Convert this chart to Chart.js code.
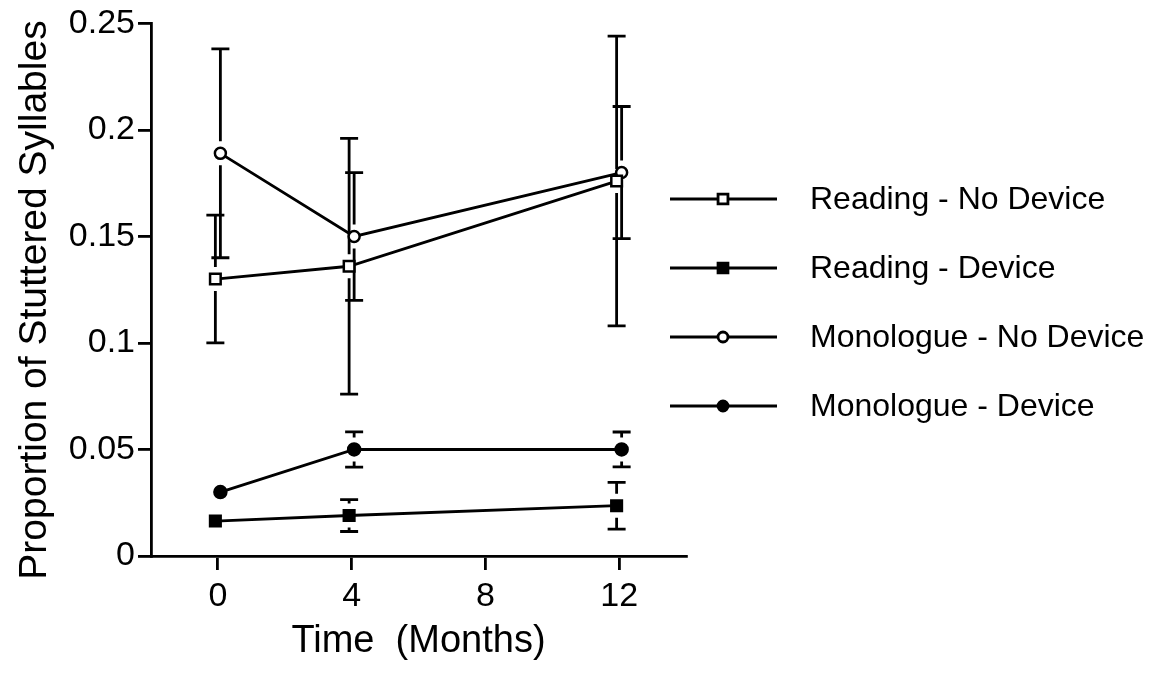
<!DOCTYPE html>
<html>
<head>
<meta charset="utf-8">
<script src="https://cdn.jsdelivr.net/npm/chart.js@4.4.1/dist/chart.umd.min.js"></script>
<style>
  html, body { margin: 0; padding: 0; background: #fff; }
  #wrap { width: 1157px; height: 675px; }
</style>
</head>
<body>
<div id="wrap"><canvas id="chart" width="1157" height="675"></canvas></div>
<script>
// Datos
const months = [0, 4, 12];
const xTicks = [0, 4, 8, 12];
const yTicks = [0, 0.05, 0.1, 0.15, 0.2, 0.25];
const yTickLabels = ['0', '0.05', '0.1', '0.15', '0.2', '0.25'];

const seriesLabels = ['Reading - No Device', 'Reading - Device', 'Monologue - No Device', 'Monologue - Device'];

const readingNoDevice = [0.130, 0.136, 0.176];
const readingNoDeviceErr = [0.030, 0.060, 0.068];
const readingDevice = [0.0164, 0.0190, 0.0236];
const readingDeviceErr = [0.004, 0.0075, 0.011];
const monologueNoDevice = [0.189, 0.150, 0.180];
const monologueNoDeviceErr = [0.049, 0.030, 0.031];
const monologueDevice = [0.030, 0.050, 0.050];
const monologueDeviceErr = [0.004, 0.0083, 0.0082];

const FONT = "'Liberation Sans', Arial, sans-serif";
const GAP = 12;   // hueco entre símbolo y barra de error
const CAP = 9;    // media anchura del remate
const LW = 2.8;

// pequeño desplazamiento horizontal para que no se tapen las barras
function pts(vals, nudge) {
  return vals.map((v, i) => ({ x: months[i] + nudge, y: v }));
}

function makeSet(label, vals, errs, style, filled, radius, nudge) {
  return {
    label: label,
    data: pts(vals, nudge),
    errors: errs,
    borderColor: '#000',
    backgroundColor: filled ? '#000' : '#fff',
    borderWidth: LW,
    pointStyle: style,
    pointRadius: radius,
    pointBorderWidth: 2.5,
    pointBackgroundColor: filled ? '#000' : '#fff',
    pointBorderColor: '#000',
    tension: 0
  };
}

const datasets = [
  makeSet(seriesLabels[0], readingNoDevice, readingNoDeviceErr, 'rect', false, 7.5, -0.075),
  makeSet(seriesLabels[1], readingDevice, readingDeviceErr, 'rect', true, 7.5, -0.075),
  makeSet(seriesLabels[2], monologueNoDevice, monologueNoDeviceErr, 'circle', false, 5.5, 0.075),
  makeSet(seriesLabels[3], monologueDevice, monologueDeviceErr, 'circle', true, 6, 0.075)
];

const errorBars = {
  id: 'errorBars',
  beforeDatasetsDraw(chart) {
    const ctx = chart.ctx;
    const ys = chart.scales.y;
    ctx.save();
    ctx.strokeStyle = '#000';
    ctx.lineWidth = LW;
    chart.data.datasets.forEach((ds, i) => {
      chart.getDatasetMeta(i).data.forEach((pt, j) => {
        const top = ys.getPixelForValue(ds.data[j].y + ds.errors[j]);
        const bot = ys.getPixelForValue(ds.data[j].y - ds.errors[j]);
        if (pt.y - top <= GAP) return;
        ctx.beginPath();
        ctx.moveTo(pt.x, top); ctx.lineTo(pt.x, pt.y - GAP);
        ctx.moveTo(pt.x, pt.y + GAP); ctx.lineTo(pt.x, bot);
        ctx.moveTo(pt.x - CAP, top); ctx.lineTo(pt.x + CAP, top);
        ctx.moveTo(pt.x - CAP, bot); ctx.lineTo(pt.x + CAP, bot);
        ctx.stroke();
      });
    });
    ctx.restore();
  }
};

// leyenda a la derecha y título del eje Y
const legendBox = {
  id: 'legendBox',
  afterDraw(chart) {
    const ctx = chart.ctx;
    ctx.save();
    ctx.font = '32px ' + FONT;
    ctx.textBaseline = 'middle';
    chart.data.datasets.forEach((ds, i) => {
      const y = 199 + i * 69;
      ctx.strokeStyle = '#000';
      ctx.lineWidth = LW;
      ctx.beginPath();
      ctx.moveTo(670, y); ctx.lineTo(777, y);
      ctx.stroke();
      ctx.fillStyle = ds.pointBackgroundColor;
      Chart.helpers.drawPoint(ctx, {
        pointStyle: ds.pointStyle,
        radius: ds.pointStyle === 'rect' ? 7 : 5,
        borderWidth: 2.5,
        rotation: 0
      }, 723, y);
      ctx.fillStyle = '#000';
      ctx.fillText(ds.label, 810, y + 1);
    });

    ctx.translate(35, 300);
    ctx.rotate(-Math.PI / 2);
    ctx.textAlign = 'center';
    ctx.font = '39px ' + FONT;
    ctx.fillText('Proportion of Stuttered Syllables', 0, 0);
    ctx.restore();
  }
};

new Chart(document.getElementById('chart'), {
  type: 'line',
  data: { datasets: datasets },
  plugins: [errorBars, legendBox],
  options: {
    responsive: false,
    animation: false,
    layout: { padding: { top: 23, right: 471, bottom: 0, left: 0 } },
    plugins: { legend: { display: false }, tooltip: { enabled: false } },
    scales: {
      x: {
        type: 'linear',
        min: -2,
        max: 14,
        afterBuildTicks: (s) => { s.ticks = xTicks.map(v => ({ value: v })); },
        afterFit: (s) => { s.height = 119; },
        border: { display: true, color: '#000', width: LW },
        grid: { drawOnChartArea: false, drawTicks: true, tickLength: 14, color: '#000', lineWidth: LW },
        ticks: { color: '#000', padding: 6, font: { family: FONT, size: 34 }, maxRotation: 0 },
        title: { display: true, text: 'Time  (Months)', color: '#000', font: { family: FONT, size: 38 }, padding: { top: 0, bottom: 11 } }
      },
      y: {
        min: 0,
        max: 0.25,
        afterBuildTicks: (s) => { s.ticks = yTicks.map(v => ({ value: v })); },
        afterFit: (s) => { s.width = 151; },
        border: { display: true, color: '#000', width: LW },
        grid: { drawOnChartArea: false, drawTicks: true, tickLength: 13, color: '#000', lineWidth: LW },
        ticks: { color: '#000', padding: 3, font: { family: FONT, size: 34 }, callback: (v, i) => yTickLabels[i] }
      }
    }
  }
});
</script>
</body>
</html>
